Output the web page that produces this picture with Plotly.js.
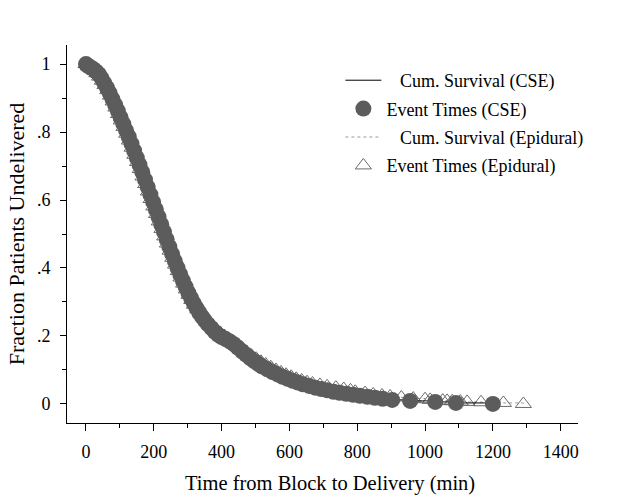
<!DOCTYPE html>
<html>
<head>
<meta charset="utf-8">
<script src="https://cdn.plot.ly/plotly-3.0.1.min.js"></script>
<style>html,body{margin:0;padding:0;background:#fff;}#chart{width:620px;height:496px;}</style>
</head>
<body>
<div id="chart"></div>
<script>
// CSE group: event times (min) and cumulative survival
var cseTime = [0,6,14,22,30,38,46,54,62,70,78,86,94,102,110,118,126,134,142,150,158,166,174,182,190,198,206,214,222,230,238,246,254,262,270,278,286,294,302,310,318,326,334,342,350,360,370,380,390,400,412,424,436,448,460,472,484,496,508,520,535,550,565,580,595,610,625,640,658,676,694,712,730,748,768,788,808,830,852,875,903,956,1030,1091,1200];
var cseSurv = [1.000,0.995,0.990,0.985,0.978,0.970,0.958,0.944,0.930,0.914,0.897,0.880,0.862,0.843,0.824,0.805,0.786,0.766,0.745,0.724,0.703,0.682,0.660,0.638,0.616,0.594,0.572,0.550,0.528,0.506,0.484,0.462,0.441,0.420,0.400,0.381,0.362,0.344,0.327,0.311,0.296,0.282,0.269,0.257,0.246,0.234,0.223,0.212,0.203,0.197,0.191,0.184,0.176,0.166,0.155,0.145,0.135,0.126,0.118,0.110,0.102,0.094,0.087,0.080,0.074,0.068,0.063,0.058,0.053,0.048,0.044,0.040,0.036,0.033,0.030,0.027,0.024,0.021,0.018,0.015,0.012,0.009,0.006,0.003,0.000];

// Epidural group: event times (min) and cumulative survival
var epiTime = [0,8,16,24,32,40,48,56,64,72,80,88,96,104,112,120,128,136,144,152,160,168,176,184,192,200,208,216,224,232,240,248,256,264,272,280,288,296,304,312,320,330,340,350,360,372,384,396,408,420,432,446,460,474,488,502,516,530,545,560,575,590,605,620,636,652,668,690,711,737,760,780,794,823,847,873,897,930,965,1000,1015,1052,1065,1080,1104,1124,1165,1231,1290];
var epiSurv = [1.000,0.993,0.987,0.981,0.973,0.963,0.951,0.938,0.923,0.907,0.890,0.872,0.853,0.834,0.815,0.795,0.775,0.754,0.733,0.712,0.691,0.669,0.647,0.625,0.603,0.581,0.559,0.537,0.515,0.493,0.472,0.451,0.430,0.410,0.391,0.372,0.354,0.337,0.321,0.306,0.292,0.278,0.265,0.253,0.242,0.230,0.219,0.209,0.200,0.191,0.182,0.172,0.162,0.152,0.142,0.133,0.124,0.116,0.108,0.100,0.093,0.086,0.080,0.074,0.069,0.064,0.060,0.056,0.052,0.048,0.044,0.040,0.036,0.032,0.028,0.025,0.022,0.019,0.016,0.014,0.012,0.010,0.009,0.008,0.007,0.006,0.005,0.003,0.000];

var yTickVals = [0, 0.2, 0.4, 0.6, 0.8, 1];
var yTickText = ['0', '.2', '.4', '.6', '.8', '1'];

var serif = 'Liberation Serif, Times New Roman, serif';
var sp = '\u00a0\u00a0\u00a0';

var traces = [
  {x: epiTime, y: epiSurv, mode: 'lines', line: {shape: 'hv', color: '#999', width: 1, dash: 'dot'},
   name: sp + 'Cum. Survival (Epidural)', legendrank: 3, legendgroup: 'c'},
  {x: epiTime, y: epiSurv, mode: 'markers', marker: {symbol: 'triangle-up-open', size: 14, color: '#6a6a6a', line: {width: 1, color: '#6a6a6a'}},
   name: 'Event Times (Epidural)', legendrank: 4, legendgroup: 'd'},
  {x: cseTime, y: cseSurv, mode: 'lines', line: {shape: 'hv', color: '#000', width: 1},
   name: sp + 'Cum. Survival (CSE)', legendrank: 1, legendgroup: 'a'},
  {x: cseTime, y: cseSurv, mode: 'markers', marker: {symbol: 'circle', size: 16, color: '#5c5c5c'},
   name: 'Event Times (CSE)', legendrank: 2, legendgroup: 'b'}
];

var layout = {
  width: 620, height: 496,
  margin: {l: 67, r: 42, t: 45, b: 73},
  paper_bgcolor: '#fff', plot_bgcolor: '#fff',
  font: {family: serif, size: 18, color: '#000'},
  showlegend: true,
  legend: {x: 0.535, y: 0.955, xanchor: 'left', yanchor: 'top', bgcolor: 'rgba(0,0,0,0)',
           font: {family: serif, size: 18, color: '#000'}, itemwidth: 36, tracegroupgap: 2},
  xaxis: {
    range: [-56, 1451], showgrid: false, zeroline: false,
    showline: true, linecolor: '#000', linewidth: 1,
    ticks: 'outside', ticklen: 7, tickcolor: '#000', tick0: 0, dtick: 200,
    ticklabelstandoff: 5,
    minor: {dtick: 100, ticks: 'outside', ticklen: 4, tickcolor: '#000'},
    tickfont: {family: serif, size: 18}
  },
  yaxis: {
    range: [-0.056, 1.056], showgrid: false, zeroline: false,
    showline: true, linecolor: '#000', linewidth: 1,
    ticks: 'outside', ticklen: 6, tickcolor: '#000',
    tickmode: 'array', tickvals: yTickVals, ticktext: yTickText,
    ticklabelstandoff: 6,
    minor: {dtick: 0.1, ticks: 'outside', ticklen: 4, tickcolor: '#000'},
    tickfont: {family: serif, size: 18},
    title: {text: 'Fraction Patients Undelivered', font: {family: serif, size: 22}, standoff: 6}
  },
  annotations: [{
    text: 'Time from Block to Delivery (min)', xref: 'paper', yref: 'paper',
    x: 0.515, y: -0.16, xanchor: 'center', yanchor: 'middle', showarrow: false,
    font: {family: serif, size: 20.5, color: '#000'}
  }]
};

Plotly.newPlot('chart', traces, layout, {displayModeBar: false, staticPlot: true});
</script>
</body>
</html>
